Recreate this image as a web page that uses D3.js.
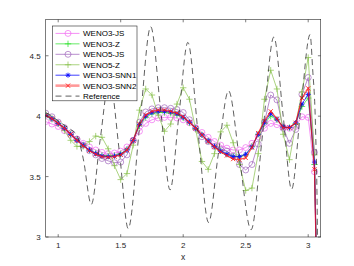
<!DOCTYPE html>
<html>
<head>
<meta charset="utf-8">
<script src="https://cdn.jsdelivr.net/npm/d3@7/dist/d3.min.js"></script>
<style>
  body { margin: 0; background: #fff; }
  svg { display: block; font-family: "Liberation Sans", Arial, sans-serif; }
</style>
</head>
<body>
<svg id="chart" width="354" height="266"></svg>
<script>
// grid points of the numerical solutions
var xGrid = [0.9, 0.95, 1.0, 1.05, 1.1, 1.15, 1.2, 1.25, 1.3, 1.35, 1.4, 1.45, 1.5, 1.55, 1.6,
  1.65, 1.7, 1.75, 1.8, 1.85, 1.9, 1.95, 2.0, 2.05, 2.1, 2.15, 2.2, 2.25, 2.3, 2.35, 2.4,
  2.45, 2.5, 2.55, 2.6, 2.65, 2.7, 2.75, 2.8, 2.85, 2.9, 2.95, 3.0, 3.05, 3.1];

var weno3js = [3.955, 3.935, 3.915, 3.88, 3.845, 3.81, 3.775, 3.745, 3.72, 3.70, 3.69, 3.695, 3.71, 3.745, 3.80,
  3.875, 3.94, 3.97, 3.985, 3.99, 3.99, 3.985, 3.97, 3.945, 3.905, 3.865, 3.825, 3.79, 3.76, 3.735, 3.72,
  3.72, 3.74, 3.775, 3.83, 3.90, 3.94, 3.93, 3.91, 3.90, 3.915, 3.995, 3.99, 3.54, 1.0];

var weno3z = [4.0, 3.975, 3.94, 3.90, 3.85, 3.80, 3.76, 3.72, 3.695, 3.675, 3.67, 3.675, 3.69, 3.725, 3.80,
  3.92, 3.99, 4.02, 4.03, 4.03, 4.025, 4.01, 3.985, 3.945, 3.90, 3.845, 3.795, 3.75, 3.715, 3.685, 3.67,
  3.665, 3.68, 3.75, 3.85, 3.94, 4.00, 3.97, 3.91, 3.905, 3.94, 4.08, 4.15, 3.60, 1.0];

var weno5js = [4.025, 3.995, 3.95, 3.905, 3.86, 3.81, 3.76, 3.715, 3.68, 3.65, 3.63, 3.615, 3.62, 3.68, 3.80,
  3.95, 4.035, 4.06, 4.07, 4.07, 4.065, 4.055, 4.03, 3.97, 3.90, 3.83, 3.79, 3.75, 3.725, 3.71, 3.67,
  3.60, 3.555, 3.60, 3.77, 3.95, 4.175, 4.135, 3.90, 3.775, 3.89, 4.18, 4.32, 3.70, 1.0];

var weno5z = [4.02, 3.985, 3.94, 3.88, 3.80, 3.75, 3.75, 3.79, 3.835, 3.825, 3.73, 3.59, 3.475, 3.525, 3.76,
  4.05, 4.225, 4.175, 4.01, 3.875, 3.935, 4.10, 4.235, 4.14, 3.89, 3.625, 3.56, 3.69, 3.87, 3.925, 3.78,
  3.60, 3.385, 3.405, 3.69, 4.14, 4.38, 4.225, 3.85, 3.64, 3.93, 4.20, 4.485, 3.68, 1.0];

var snn1 = [4.005, 3.98, 3.94, 3.90, 3.85, 3.80, 3.76, 3.72, 3.69, 3.67, 3.665, 3.67, 3.685, 3.72, 3.80,
  3.93, 4.0, 4.03, 4.04, 4.04, 4.035, 4.02, 3.99, 3.95, 3.90, 3.845, 3.795, 3.75, 3.71, 3.685, 3.665,
  3.665, 3.685, 3.745, 3.85, 3.95, 4.02, 3.975, 3.91, 3.905, 3.945, 4.10, 4.18, 3.62, 1.0];

var snn2 = [4.005, 3.98, 3.94, 3.90, 3.85, 3.80, 3.755, 3.715, 3.685, 3.665, 3.66, 3.665, 3.68, 3.72, 3.80,
  3.935, 4.01, 4.04, 4.05, 4.05, 4.04, 4.025, 3.995, 3.95, 3.90, 3.845, 3.79, 3.745, 3.705, 3.675, 3.645,
  3.64, 3.655, 3.74, 3.86, 3.96, 4.04, 3.98, 3.905, 3.905, 3.945, 4.15, 4.23, 3.56, 1.0];

// reference solution, read at its turning points
var refX = [0.9, 0.95, 1.0, 1.05, 1.1, 1.15, 1.2, 1.265, 1.335, 1.41, 1.49, 1.56, 1.65, 1.74, 1.82,
  1.895, 1.965, 2.037, 2.12, 2.203, 2.28, 2.363, 2.45, 2.543, 2.635, 2.725, 2.80, 2.867, 2.94,
  3.015, 3.035, 3.06, 3.074, 3.077];
var refY = [4.03, 4.0, 3.96, 3.925, 3.89, 3.84, 3.65, 3.27, 3.80, 4.30, 3.70, 3.07, 3.90, 4.74, 4.05,
  3.39, 4.0, 4.61, 3.85, 3.12, 3.68, 4.21, 3.65, 3.06, 3.85, 4.655, 4.0, 3.395, 4.05,
  4.675, 4.4, 3.85, 3.0, 1.0];

var xTicks = [1, 1.5, 2, 2.5, 3];
var yTicks = [3, 3.5, 4, 4.5];
var names = ["WENO3-JS", "WENO3-Z", "WENO5-JS", "WENO5-Z", "WENO3-SNN1", "WENO3-SNN2", "Reference"];

var svg = d3.select("#chart");
var margin = {left: 45.7, top: 19.5, right: 33.3, bottom: 29};
var width = 354 - margin.left - margin.right,
    height = 266 - margin.top - margin.bottom;
var axisColor = "#262626";

var x = d3.scaleLinear().domain([0.9, 3.1]).range([0, width]);
var y = d3.scaleLinear().domain([3, 4.8]).range([height, 0]);

var g = svg.append("g").attr("transform", "translate(" + margin.left + "," + margin.top + ")");

g.append("clipPath").attr("id", "clip")
  .append("rect").attr("width", width).attr("height", height);

var series = [
  {data: weno3js, color: "#f060f0", w: 0.7, marker: "circle"},
  {data: weno3z, color: "#22e022", w: 0.7, marker: "plus"},
  {data: weno5js, color: "#9a5cb8", w: 0.7, marker: "circle"},
  {data: weno5z, color: "#86c049", w: 0.7, marker: "plus"},
  {data: snn1, color: "#1010ff", w: 0.8, marker: "star"},
  {data: snn2, color: "rgba(255,0,0,0.7)", mcolor: "#ff2020", w: 1.2, marker: "cross"}
];

function drawMarker(sel, type, color, cx, cy) {
  if (type === "circle") {
    sel.append("circle").attr("cx", cx).attr("cy", cy).attr("r", 3)
      .attr("fill", "none").attr("stroke", color).attr("stroke-width", 0.65);
  } else {
    var p = "";
    if (type === "plus" || type === "star") {
      var s = type === "plus" ? 3.2 : 2.5;
      p += "M" + (cx - s) + "," + cy + "H" + (cx + s) + "M" + cx + "," + (cy - s) + "V" + (cy + s);
    }
    if (type === "cross" || type === "star") {
      var c = type === "cross" ? 2.1 : 1.8;
      p += "M" + (cx - c) + "," + (cy - c) + "L" + (cx + c) + "," + (cy + c) +
           "M" + (cx - c) + "," + (cy + c) + "L" + (cx + c) + "," + (cy - c);
    }
    sel.append("path").attr("d", p).attr("fill", "none")
      .attr("stroke", color).attr("stroke-width", type === "plus" ? 0.7 : 0.9);
  }
}

var plot = g.append("g").attr("clip-path", "url(#clip)");

var line = d3.line()
  .x(function(d) { return x(d[0]); })
  .y(function(d) { return y(d[1]); });

series.forEach(function(s) {
  var pts = xGrid.map(function(xv, i) { return [xv, s.data[i]]; });
  plot.append("path").datum(pts)
    .attr("d", line)
    .attr("fill", "none")
    .attr("stroke", s.color)
    .attr("stroke-width", s.w);
  var mg = plot.append("g");
  pts.forEach(function(p) {
    if (p[1] >= 3 && p[1] <= 4.8) drawMarker(mg, s.marker, s.mcolor || s.color, x(p[0]), y(p[1]));
  });
});

var refLine = d3.line()
  .x(function(d) { return x(d[0]); })
  .y(function(d) { return y(d[1]); })
  .curve(d3.curveMonotoneX);

plot.append("path")
  .datum(refX.map(function(xv, i) { return [xv, refY[i]]; }))
  .attr("d", refLine)
  .attr("fill", "none")
  .attr("stroke", "#2a2a2a")
  .attr("stroke-width", 0.75)
  .attr("stroke-dasharray", "6,4");

// axes box with inward ticks
g.append("rect").attr("width", width).attr("height", height)
  .attr("fill", "none").attr("stroke", axisColor).attr("stroke-width", 0.6);

var tl = 2.8;
xTicks.forEach(function(t) {
  g.append("line").attr("x1", x(t)).attr("x2", x(t)).attr("y1", height).attr("y2", height - tl)
    .attr("stroke", axisColor).attr("stroke-width", 0.6);
  g.append("line").attr("x1", x(t)).attr("x2", x(t)).attr("y1", 0).attr("y2", tl)
    .attr("stroke", axisColor).attr("stroke-width", 0.6);
  g.append("text").attr("x", x(t)).attr("y", height + 11)
    .attr("text-anchor", "middle").attr("font-size", 8).attr("fill", axisColor).text(t);
});
yTicks.forEach(function(t) {
  g.append("line").attr("x1", 0).attr("x2", tl).attr("y1", y(t)).attr("y2", y(t))
    .attr("stroke", axisColor).attr("stroke-width", 0.6);
  g.append("line").attr("x1", width).attr("x2", width - tl).attr("y1", y(t)).attr("y2", y(t))
    .attr("stroke", axisColor).attr("stroke-width", 0.6);
  g.append("text").attr("x", -5).attr("y", y(t) + 3)
    .attr("text-anchor", "end").attr("font-size", 8).attr("fill", axisColor).text(t);
});

g.append("text").attr("x", width / 2).attr("y", height + 23)
  .attr("text-anchor", "middle").attr("font-size", 8.5).attr("fill", axisColor).text("x");

// legend
var lg = svg.append("g").attr("transform", "translate(52.5,26)");
lg.append("rect").attr("width", 84.5).attr("height", 74.8)
  .attr("fill", "#fff").attr("stroke", axisColor).attr("stroke-width", 0.6);

names.forEach(function(n, i) {
  var yy = 7.4 + i * 10.45;
  var row = lg.append("g");
  if (i < 6) {
    var s = series[i];
    row.append("line").attr("x1", 3).attr("x2", 27).attr("y1", yy).attr("y2", yy)
      .attr("stroke", i === 5 ? "rgba(255,0,0,0.4)" : s.color)
      .attr("stroke-width", i === 5 ? 2.6 : s.w);
    drawMarker(row, s.marker, s.mcolor || s.color, 15.5, yy);
  } else {
    row.append("line").attr("x1", 3).attr("x2", 27).attr("y1", yy).attr("y2", yy)
      .attr("stroke", "#2a2a2a").attr("stroke-width", 0.75).attr("stroke-dasharray", "6,4");
  }
  row.append("text").attr("x", 30.5).attr("y", yy + 2.9)
    .attr("font-size", 8).attr("fill", "#000").text(n);
});
</script>
</body>
</html>
